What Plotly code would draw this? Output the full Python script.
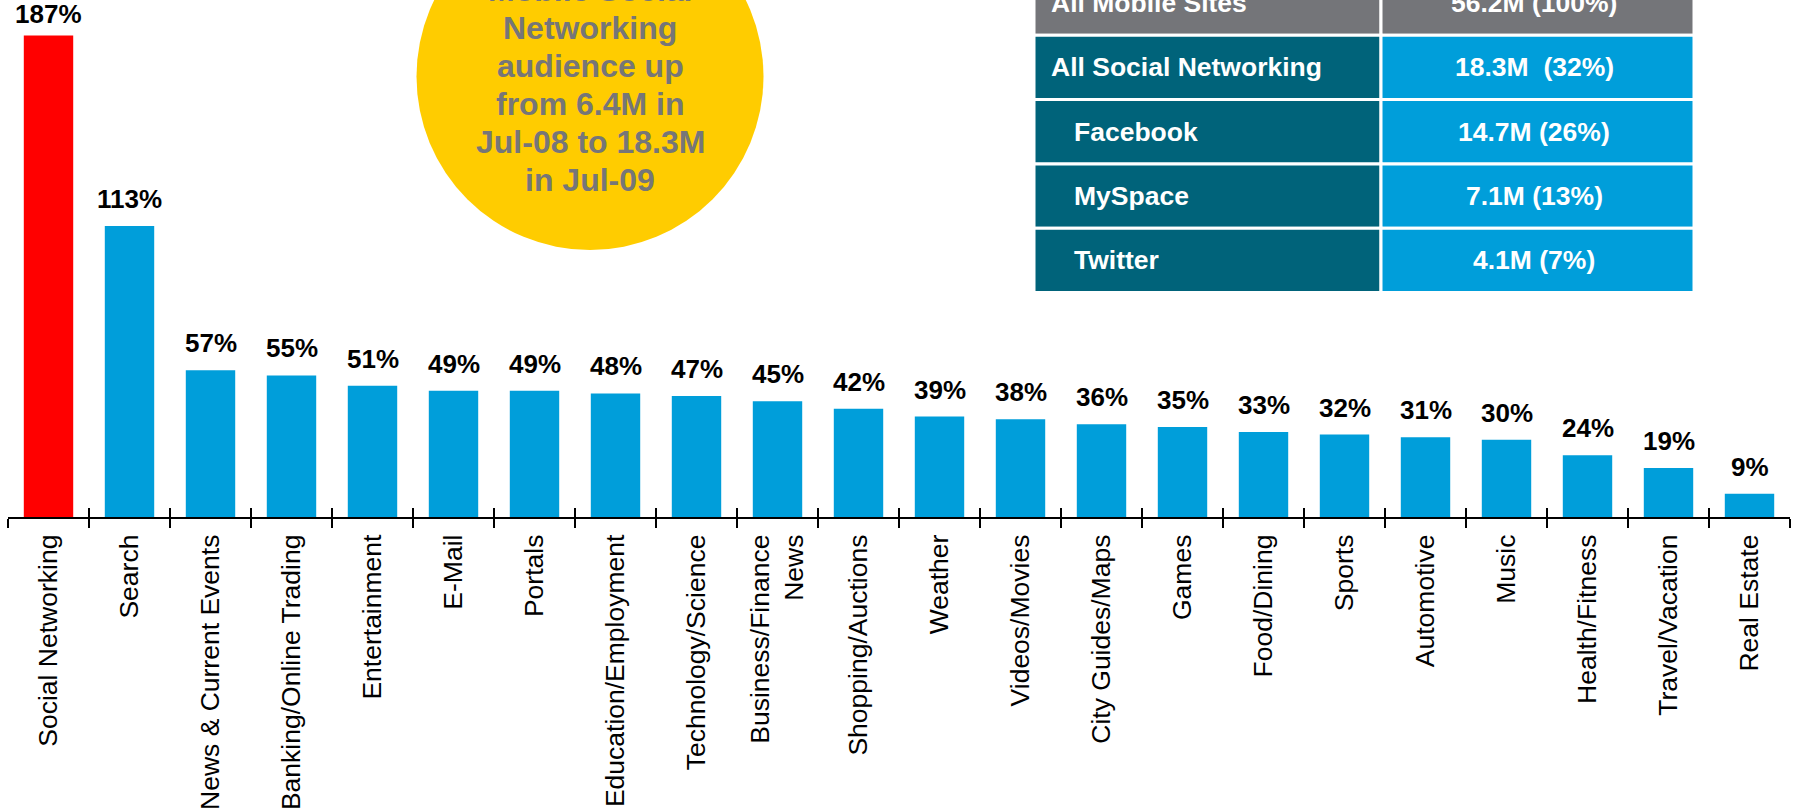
import plotly.graph_objects as go

# Growth in mobile audience by content category, Jul-08 to Jul-09
categories = [
    "Social Networking", "Search", "News & Current Events", "Banking/Online Trading",
    "Entertainment", "E-Mail", "Portals", "Education/Employment", "Technology/Science",
    "Business/Finance<br>News", "Shopping/Auctions", "Weather", "Videos/Movies",
    "City Guides/Maps", "Games", "Food/Dining", "Sports", "Automotive", "Music",
    "Health/Fitness", "Travel/Vacation", "Real Estate",
]
growth_pct = [187, 113, 57, 55, 51, 49, 49, 48, 47, 45, 42, 39, 38, 36, 35, 33, 32, 31, 30, 24, 19, 9]

# Mobile audience summary table
table_labels = ["All Mobile Sites", "All Social Networking", "Facebook", "MySpace", "Twitter"]
table_values = ["56.2M (100%)", "18.3M\u00a0 (32%)", "14.7M (26%)", "7.1M (13%)", "4.1M (7%)"]
table_indent = [False, False, True, True, True]

callout_lines = ["Mobile Social", "Networking", "audience up", "from 6.4M in",
                 "Jul-08 to 18.3M", "in Jul-09"]

W, H = 1793, 810
ML, MR, MT, MB = 8, 3, 0, 293
PW, PH = W - ML - MR, H - MT - MB

RED = "#FF0000"
BLUE = "rgb(0,158,218)"
TEAL = "rgb(0,99,122)"
GREY_HDR = "rgb(116,117,121)"
YELLOW = "rgb(255,204,0)"
GREY_TXT = "rgb(118,118,120)"
FONT = "Liberation Sans, Arial, sans-serif"


def px(x):
    return (x - ML) / PW


def py(y):
    return (MT + PH - y) / PH


y_top = max(growth_pct) * PH / 481.5

colors = [RED if i == 0 else BLUE for i in range(len(categories))]

fig = go.Figure()
fig.add_trace(go.Bar(x=categories, y=growth_pct, marker=dict(color=colors, line=dict(width=0)),
                     hoverinfo="skip", showlegend=False))
# companion trace on an overlaid axis so the ticks cross the baseline
fig.add_trace(go.Bar(x=categories, y=growth_pct, xaxis="x2", marker=dict(opacity=0),
                     hoverinfo="skip", showlegend=False))

annotations = []
for i, (c, v) in enumerate(zip(categories, growth_pct)):
    annotations.append(dict(
        x=c, y=v, xref="x", yref="y", text=f"<b>{v}%</b>", showarrow=False,
        yanchor="bottom", yshift=4 if i == 0 else 10,
        font=dict(family=FONT, size=26, color="black"),
    ))

shapes = []
# callout circle
cx, cy, r = 590, 76.5, 173.5
shapes.append(dict(type="circle", xref="paper", yref="paper",
                   x0=px(cx - r), x1=px(cx + r), y0=py(cy + r), y1=py(cy - r),
                   fillcolor=YELLOW, line=dict(width=0), layer="above"))
line_pitch = 38
first_line_y = -10
for k, s in enumerate(callout_lines):
    annotations.append(dict(
        x=px(cx), y=py(first_line_y + k * line_pitch), xref="paper", yref="paper",
        showarrow=False, text=f"<b>{s}</b>", xanchor="center", yanchor="middle",
        font=dict(family=FONT, size=32, color=GREY_TXT),
    ))

# summary table
col_l = (1034, 1381)
col_r = (1381, 1694)
for i, (lab, val, ind) in enumerate(zip(table_labels, table_values, table_indent)):
    top = -29 + 64.3 * i
    bot = top + 64.3
    left_fill = GREY_HDR if i == 0 else TEAL
    right_fill = GREY_HDR if i == 0 else BLUE
    for (x0, x1), fill in ((col_l, left_fill), (col_r, right_fill)):
        shapes.append(dict(type="rect", xref="paper", yref="paper",
                           x0=px(x0), x1=px(x1), y0=py(bot), y1=py(top),
                           fillcolor=fill, line=dict(color="white", width=3), layer="above"))
    ymid = py((top + bot) / 2)
    annotations.append(dict(
        x=px(1072 if ind else 1049), y=ymid, xref="paper", yref="paper", showarrow=False,
        text=f"<b>{lab}</b>", xanchor="left", yanchor="middle",
        font=dict(family=FONT, size=26.5, color="white"),
    ))
    annotations.append(dict(
        x=px(1534), y=ymid, xref="paper", yref="paper", showarrow=False,
        text=f"<b>{val}</b>", xanchor="center", yanchor="middle",
        font=dict(family=FONT, size=26.5, color="white"),
    ))

axis_common = dict(
    type="category", categoryorder="array", categoryarray=categories,
    range=[-0.5, len(categories) - 0.5], tickson="boundaries",
    ticklen=9, tickwidth=2, tickcolor="black", showgrid=False, zeroline=False,
)
fig.update_layout(
    width=W, height=H,
    margin=dict(l=ML, r=MR, t=MT, b=MB, pad=0),
    paper_bgcolor="white", plot_bgcolor="white",
    bargap=0.39,
    xaxis=dict(**axis_common, ticks="outside", tickangle=-90, ticklabelstandoff=5,
               showline=True, linecolor="black", linewidth=2,
               tickfont=dict(family=FONT, size=26.5, color="black")),
    xaxis2=dict(**axis_common, ticks="inside", overlaying="x", anchor="y", side="bottom",
                showticklabels=False, showline=False),
    yaxis=dict(range=[0, y_top], visible=False, fixedrange=True),
    shapes=shapes,
    annotations=annotations,
)

fig.write_html("out.html")
